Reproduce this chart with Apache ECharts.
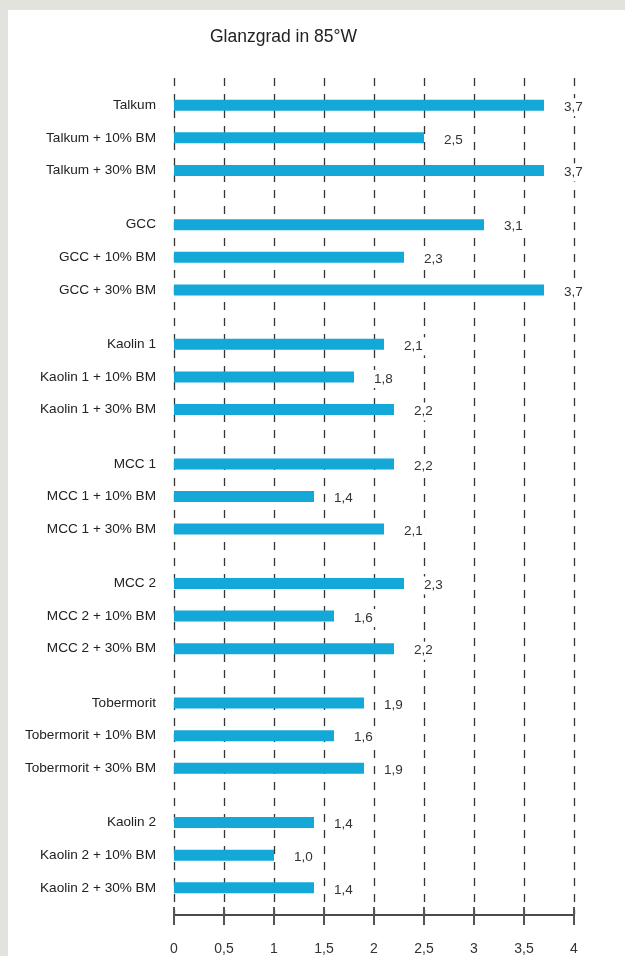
<!DOCTYPE html>
<html><head><meta charset="utf-8">
<script src="https://cdn.jsdelivr.net/npm/echarts@6/dist/echarts.min.js"></script>
<style>
html,body{margin:0;padding:0;background:#e3e3de;width:625px;height:956px;overflow:hidden;}
#c{position:absolute;left:8px;top:10px;width:617px;height:946px;background:#fff;}
</style></head>
<body><div id="c"></div>
<script>
const title = 'Glanzgrad in 85°W';
const groups = ['Talkum', 'GCC', 'Kaolin 1', 'MCC 1', 'MCC 2', 'Tobermorit', 'Kaolin 2'];
const variants = ['', ' + 10% BM', ' + 30% BM'];
const values = [
  [3.7, 2.5, 3.7],
  [3.1, 2.3, 3.7],
  [2.1, 1.8, 2.2],
  [2.2, 1.4, 2.1],
  [2.3, 1.6, 2.2],
  [1.9, 1.6, 1.9],
  [1.4, 1.0, 1.4]
];
const xTicks = [0, 0.5, 1, 1.5, 2, 2.5, 3, 3.5, 4];

// category slots: blank spacer slots give the uneven spacing of the groups
const cats = [], data = [];
function blank(n){ for (let i = 0; i < n; i++){ cats.push(''); data.push('-'); } }
blank(2);
groups.forEach((g, gi) => {
  variants.forEach((v, vi) => {
    cats.push(g + v); data.push(values[gi][vi]);
    if (vi < 2) blank(2);
    else if (gi < groups.length - 1) blank(4);
  });
});
blank(2);

const fmt = v => String(v).replace('.', ',');
const font = '"Liberation Sans", Arial, sans-serif';
const chart = echarts.init(document.getElementById('c'));
chart.setOption({
  animation: false,
  title: { text: title, left: 197, top: 13, textStyle: { fontSize: 17.5, fontWeight: 'normal', color: '#222', fontFamily: font } },
  grid: { left: 166, right: 51, top: 68, bottom: 40, containLabel: false },
  xAxis: [{
    type: 'value', min: xTicks[0], max: xTicks[xTicks.length - 1], interval: 0.5,
    axisLine: { show: true, lineStyle: { color: '#111', width: 1.5 } },
    axisTick: { show: true, length: 10, lineStyle: { color: '#555', width: 2 } },
    axisLabel: { margin: 27, fontSize: 14, color: '#333', fontFamily: font, formatter: v => fmt(v) },
    splitLine: { show: true, lineStyle: { type: [8, 8], color: '#333', width: 1.3 } }
  }, {
    type: 'value', min: xTicks[0], max: xTicks[xTicks.length - 1], interval: 0.5, position: 'bottom',
    axisLine: { show: false },
    axisTick: { show: true, inside: true, length: 8, lineStyle: { color: '#555', width: 2 } },
    axisLabel: { show: false }, splitLine: { show: false }
  }],
  yAxis: {
    type: 'category', data: cats, inverse: true,
    axisLine: { show: false }, axisTick: { show: false },
    axisLabel: { interval: 0, margin: 18, fontSize: 13.6, color: '#222', fontFamily: font }
  },
  series: [{
    type: 'bar', data: data, barWidth: 11, xAxisIndex: 0,
    itemStyle: { color: '#13a8d7' },
    label: { show: true, position: 'right', distance: 17, fontSize: 13.5, color: '#333', fontFamily: font,
      backgroundColor: '#fff', padding: [3, 3, 1, 3], offset: [0, 2],
      formatter: p => fmt(p.value.toFixed(1)) }
  }]
});
</script></body></html>
